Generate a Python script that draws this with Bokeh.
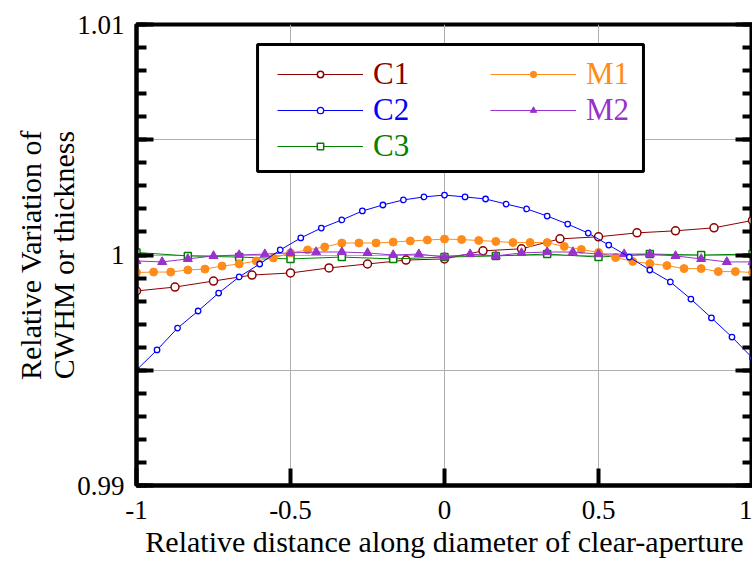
from bokeh.plotting import figure
from bokeh.models import (LinearAxis, FixedTicker, Range1d, Legend, LegendItem,
                          BoxAnnotation)
from bokeh.embed import file_html
from bokeh.resources import INLINE

# ---------------- data ----------------
x_c1 = [i * 0.125 - 1 for i in range(17)]
c1 = [0.99844, 0.99861, 0.99887, 0.99913, 0.99922, 0.99944, 0.99961, 0.99978,
      0.99983, 1.00018, 1.00027, 1.00070, 1.00079, 1.00096, 1.00105, 1.00118, 1.00150]

x_c2 = [i / 15 - 1 for i in range(31)]
c2 = [0.99501, 0.99588, 0.99683, 0.99757, 0.99835, 0.99905, 0.99961, 1.00022,
      1.00074, 1.00117, 1.00152, 1.00191, 1.00217, 1.00239, 1.00252, 1.00260,
      1.00252, 1.00243, 1.00221, 1.00200, 1.00169, 1.00134, 1.00095, 1.00043,
      0.99991, 0.99935, 0.99883, 0.99809, 0.99727, 0.99644, 0.99553]

x_c3 = [i / 6 - 1 for i in range(13)]
c3 = [1.00011, 0.99996, 0.99991, 0.99983, 0.99991, 0.99983, 0.99991, 0.99996,
      1.00004, 0.99991, 1.00004, 1.00000, 1.00004]

x_m1 = [i / 18 - 1 for i in range(37)]
m1 = [0.99924, 0.99926, 0.99926, 0.99935, 0.99939, 0.99952, 0.99961, 0.99974,
      0.99987, 1.00009, 1.00022, 1.00035, 1.00052, 1.00052, 1.00052, 1.00056,
      1.00061, 1.00065, 1.00069,
      1.00067, 1.00063, 1.00059, 1.00054, 1.00054, 1.00054, 1.00037, 1.00024,
      1.00011, 0.99989, 0.99972, 0.99963, 0.99954, 0.99941, 0.99941, 0.99928,
      0.99928, 0.99924]

x_m2 = [i / 12 - 1 for i in range(25)]
m2 = [0.99974, 0.99970, 0.99983, 0.99996, 1.00000, 1.00004, 1.00009, 1.00013,
      1.00013, 1.00009, 1.00000, 1.00004, 0.99991,
      1.00004, 0.99996, 1.00009, 1.00013, 1.00013, 1.00004, 1.00004, 1.00004,
      0.99996, 0.99983, 0.99970, 0.99970]

series_names = ["C1", "C2", "C3", "M1", "M2"]
x_ticks = [-1, -0.5, 0, 0.5, 1]
x_tick_labels = ["-1", "-0.5", "0", "0.5", "1"]
y_ticks = [0.99, 0.995, 1.0, 1.005, 1.01]
y_tick_labels = ["0.99", "", "1", "", "1.01"]
y_minor = [0.99 + i * 0.001 for i in range(21)]

FONT = "Liberation Serif"
COL = {"C1": "#8b0000", "C2": "#0000ff", "C3": "#008000",
       "M1": "#ff8c1a", "M2": "#9932cc"}

p = figure(frame_width=616, frame_height=461,
           x_range=Range1d(-1, 1), y_range=Range1d(0.99, 1.01),
           output_backend="svg", toolbar_location=None,
           min_border_left=136, min_border_top=24, min_border_bottom=76,
           min_border_right=0)
p.background_fill_color = "white"
p.border_fill_color = "white"
p.outline_line_color = "black"
p.outline_line_width = 4

xt = FixedTicker(ticks=x_ticks, minor_ticks=[])
yt = FixedTicker(ticks=y_ticks, minor_ticks=y_minor)

xa = p.xaxis[0]
xa.ticker = xt
xa.major_label_overrides = {t: l for t, l in zip(x_ticks, x_tick_labels)}
ya = p.yaxis[0]
ya.ticker = yt
ya.major_label_overrides = {t: l for t, l in zip(y_ticks, y_tick_labels)}

ra = LinearAxis(ticker=yt, major_label_text_font_size="1px",
                major_label_text_color=None, major_label_standoff=0)
p.add_layout(ra, "right")

for ax in [xa, ya, ra]:
    ax.axis_line_width = 4
    ax.axis_line_color = "black"
    ax.major_tick_line_width = 4
    ax.minor_tick_line_width = 4
    ax.major_tick_in = 17
    ax.major_tick_out = 0
    ax.minor_tick_in = 10
    ax.minor_tick_out = 0
    ax.major_label_text_font = FONT
    ax.axis_label_text_font = FONT
    ax.axis_label_text_font_style = "normal"
    ax.axis_label_text_color = "black"

xa.minor_tick_line_color = None
xa.major_label_text_font_size = "27px"
xa.major_label_text_color = "black"
xa.major_label_standoff = 15
xa.axis_label = "Relative distance along diameter of clear-aperture"
xa.axis_label_text_font_size = "30px"
xa.axis_label_standoff = 3

ya.major_label_text_font_size = "27px"
ya.major_label_text_color = "black"
ya.major_label_standoff = 12
ya.axis_label = "Relative Variation of\nCWHM or thickness"
ya.axis_label_text_font_size = "30px"
ya.axis_label_text_line_height = 1.0
ya.axis_label_standoff = -6

p.xgrid.ticker = xt
p.ygrid.ticker = yt
for g in [p.xgrid[0], p.ygrid[0]]:
    g.grid_line_color = "#b0b0b0"
    g.grid_line_width = 1

rends = {}
lc = p.line(x_c1, c1, color=COL["C1"], line_width=1)
sc = p.scatter(x_c1, c1, marker="circle", size=8, line_color=COL["C1"],
               fill_color="white", line_width=1.5)
rends["C1"] = [lc, sc]
lc = p.line(x_c3, c3, color=COL["C3"], line_width=1)
sc = p.scatter(x_c3, c3, marker="square", size=7, line_color=COL["C3"],
               fill_color="white", line_width=1.5)
rends["C3"] = [lc, sc]
lc = p.line(x_m1, m1, color=COL["M1"], line_width=1)
sc = p.scatter(x_m1, m1, marker="circle", size=8, line_color=COL["M1"],
               fill_color=COL["M1"])
rends["M1"] = [lc, sc]
lc = p.line(x_m2, m2, color=COL["M2"], line_width=1)
sc = p.scatter(x_m2, m2, marker="triangle", size=9, line_color=COL["M2"],
               fill_color=COL["M2"])
rends["M2"] = [lc, sc]
lc = p.line(x_c2, c2, color=COL["C2"], line_width=1)
sc = p.scatter(x_c2, c2, marker="circle", size=5.5, line_color=COL["C2"],
               fill_color="white", line_width=1.3)
rends["C2"] = [lc, sc]

box = BoxAnnotation(left=-0.607, right=0.646, bottom=1.00362, top=1.00913,
                    fill_color="white", fill_alpha=1.0,
                    line_color="black", line_width=3, line_alpha=1.0)
p.add_layout(box)

loc = {"C1": (141, 393), "C2": (141, 357), "C3": (141, 321),
       "M1": (354, 393), "M2": (354, 357)}
for name in series_names:
    lg = Legend(items=[LegendItem(label=name, renderers=rends[name])],
                location=loc[name], padding=0, margin=0, spacing=0,
                glyph_width=86, glyph_height=16, label_height=16,
                label_standoff=10, border_line_color=None,
                background_fill_alpha=0.0,
                label_text_font=FONT, label_text_font_size="31px",
                label_text_color=COL[name])
    p.add_layout(lg)

open("out.html", "w").write(file_html(p, INLINE))
